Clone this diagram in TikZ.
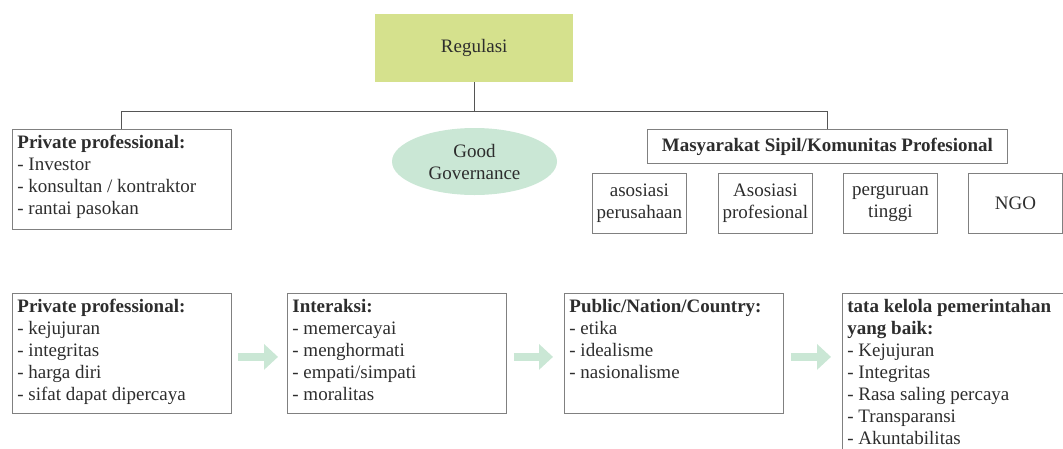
\documentclass[tikz,border=0pt]{standalone}
\usepackage{fontspec}
\setmainfont{Liberation Serif}
\usetikzlibrary{arrows.meta,calc,shapes.geometric}
\definecolor{regfill}{RGB}{213,225,141}
\definecolor{mint}{RGB}{202,231,213}
\definecolor{bordergray}{RGB}{128,128,128}
\definecolor{linegray}{RGB}{85,85,85}
\definecolor{txt}{RGB}{45,45,45}
\newcommand{\listtext}[3]{\parbox[c][#2][t]{#1}{\raggedright\rule{0pt}{19pt}#3}}
\begin{document}
\begin{tikzpicture}[x=1pt,y=-1pt,
  font=\fontsize{19}{22}\selectfont, text=txt,
  box/.style={draw=bordergray, line width=0.8pt, anchor=north west, inner xsep=5pt, inner ysep=0pt},
  smallbox/.style={draw=bordergray, line width=0.8pt, anchor=north west, minimum width=94pt, minimum height=60pt, inner sep=0pt, align=center},
  conn/.style={draw=linegray, line width=1pt},
  flow/.style={draw=mint, line width=8pt, -{Triangle[length=14pt,width=25pt]}}]
\useasboundingbox (0,0) rectangle (1063,448);

\node[fill=regfill, minimum width=198pt, minimum height=68pt, anchor=north west, inner sep=0pt] (reg) at (375,14) {Regulasi};

\node[box] (pp1) at (12,129) {\listtext{209pt}{100pt}{\textbf{Private professional:}\\- Investor\\- konsultan / kontraktor\\- rantai pasokan}};

\node[ellipse, fill=mint, minimum width=165pt, minimum height=67pt, inner sep=0pt, align=center] (gg) at (474.5,161.5) {Good\\Governance};

\node[draw=bordergray, line width=0.8pt, anchor=north west, minimum width=360pt, minimum height=34pt, inner sep=0pt] (mas) at (647,129) {\textbf{Masyarakat Sipil/Komunitas Profesional}};

\node[smallbox] (s1) at (592,173) {asosiasi\\perusahaan};
\node[smallbox] (s2) at (718,173) {Asosiasi\\profesional};
\node[smallbox] (s3) at (843,173) {perguruan\\tinggi};
\node[smallbox] (s4) at (968,173) {NGO};

\node[box] (b1) at (12,293) {\listtext{209pt}{120pt}{\textbf{Private professional:}\\- kejujuran\\- integritas\\- harga diri\\- sifat dapat dipercaya}};
\node[box] (b2) at (287,293) {\listtext{209pt}{120pt}{\textbf{Interaksi:}\\- memercayai\\- menghormati\\- empati/simpati\\- moralitas}};
\node[box] (b3) at (564,293) {\listtext{209pt}{120pt}{\textbf{Public/Nation/Country:}\\- etika\\- idealisme\\- nasionalisme}};
\node[box] (b4) at (842,293) {\listtext{235pt}{170pt}{\textbf{tata kelola pemerintahan}\\\textbf{yang baik:}\\- Kejujuran\\- Integritas\\- Rasa saling percaya\\- Transparansi\\- Akuntabilitas}};

\coordinate (hl) at (0,111);
\draw[conn] (reg.south) -- (reg.south |- hl);
\draw[conn] (pp1.north) -- (pp1.north |- hl) -- (mas.north |- hl) -- (mas.north);

\draw[flow] ($(b1.east)+(6,3.5)$) -- ($(b1.east -| b2.west)+(-9,3.5)$);
\draw[flow] ($(b2.east)+(7,3.5)$) -- ($(b2.east -| b3.west)+(-11,3.5)$);
\draw[flow] ($(b3.east)+(7,3.5)$) -- ($(b3.east -| b4.west)+(-11,3.5)$);
\end{tikzpicture}
\end{document}
